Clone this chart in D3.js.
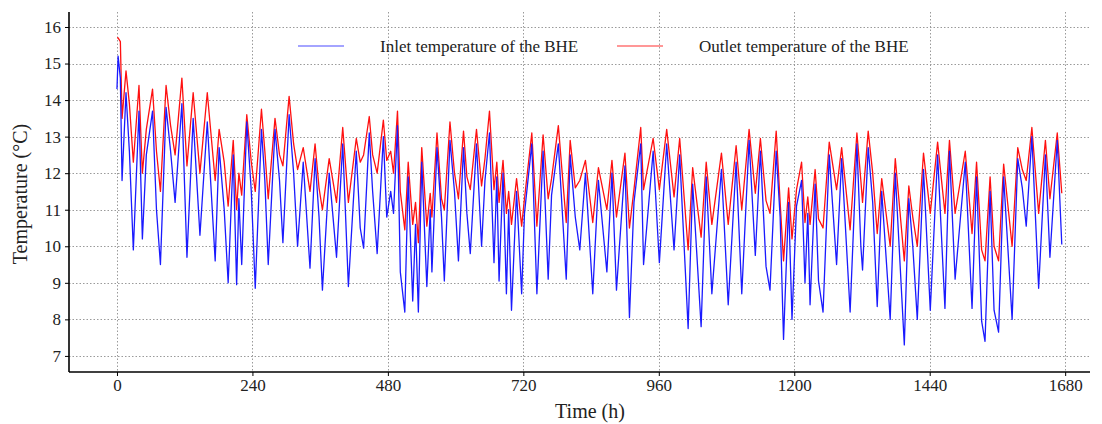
<!DOCTYPE html>
<html>
<head>
<meta charset="utf-8">
<script src="https://cdn.jsdelivr.net/npm/d3@7"></script>
<style>
body { margin: 0; background: #fff; }
text { font-family: "Liberation Serif", "Times New Roman", serif; }
</style>
</head>
<body>
<svg width="1102" height="424"></svg>
<script>
// hours of the turning points
var hours = [0,2,6,9,16,22,29,39,45,52,63,70,77,87,95,103,115,124,135,147,160,174,181,190,197,206,212,216,221,
  230,238,245,256,262,268,280,288,294,305,313,320,330,342,351,358,364,376,389,400,410,424,431,437,447,453,461,
  472,478,485,490,497,502,510,516,524,529,534,540,549,555,558,567,575,580,590,598,605,614,620,626,637,646,652,
  660,668,673,677,684,690,694,699,708,717,722,735,744,755,764,770,782,796,803,812,820,830,843,853,868,877,885,
  900,908,916,922,928,933,950,961,974,987,997,1012,1020,1035,1044,1054,1071,1083,1097,1107,1120,1131,1140,1150,
  1157,1168,1175,1181,1190,1196,1204,1213,1219,1224,1228,1237,1243,1251,1262,1275,1284,1299,1311,1318,1321,1331,
  1339,1347,1355,1370,1379,1395,1403,1410,1418,1429,1441,1454,1467,1475,1485,1503,1515,1523,1532,1538,1547,1554,
  1562,1571,1586,1596,1604,1611,1621,1633,1645,1653,1666,1674];

var inlet = [14.3,15.2,14.6,11.8,14.2,12.6,9.9,13.7,10.2,12.5,13.7,11.0,9.5,13.8,12.6,11.2,13.9,9.7,13.5,10.3,13.4,9.6,12.7,11.0,9.0,12.5,8.95,11.3,9.5,
  13.4,11.5,8.85,13.2,11.8,9.5,13.2,11.8,10.1,13.6,12.0,10.0,12.3,9.4,12.4,10.8,8.8,12.0,9.7,12.8,8.9,12.6,10.5,9.95,13.1,11.5,9.8,
  13.0,10.8,11.5,10.9,13.3,9.3,8.2,11.9,8.5,10.6,8.2,12.3,8.9,11.0,9.3,12.7,10.8,9.05,12.9,11.5,9.6,12.7,10.9,9.8,12.8,10.0,11.8,
  13.1,9.55,11.9,9.05,12.0,8.7,11.0,8.25,11.5,8.7,10.9,12.8,8.7,12.6,9.1,11.4,12.8,9.1,12.5,10.8,9.9,12.0,8.7,11.8,9.3,12.0,8.8,
  12.2,8.05,11.2,12.0,12.8,9.5,12.6,9.55,12.8,9.9,12.5,7.75,11.7,7.8,11.9,8.7,12.1,8.4,12.3,8.7,12.9,9.75,12.6,9.45,
  8.8,12.6,10.8,7.45,11.2,8.0,11.1,11.8,9.0,10.9,8.4,11.7,9.05,8.2,12.5,9.5,12.4,8.2,12.8,10.0,9.35,12.7,
  11.2,8.35,11.5,8.0,12.0,7.3,11.3,10.0,8.0,12.1,8.25,12.5,8.3,12.6,9.1,12.3,8.3,11.9,7.95,7.4,11.5,8.25,
  7.65,11.9,8.0,12.4,11.6,10.55,13.0,8.85,12.5,9.7,12.9,10.05];

var outlet = [15.7,15.7,15.6,13.5,14.8,13.9,12.3,14.4,12.0,13.2,14.3,12.6,11.5,14.4,13.3,12.5,14.6,12.2,14.2,12.0,14.2,11.8,13.2,12.3,11.1,12.9,11.0,12.0,11.4,
  13.6,12.3,11.5,13.75,12.6,11.3,13.5,12.5,12.2,14.1,12.8,12.1,12.7,11.5,12.8,11.6,11.0,12.4,11.2,13.25,11.2,12.95,12.3,12.5,13.55,12.5,12.0,
  13.45,12.35,12.6,12.0,13.7,11.5,10.45,12.3,10.6,11.2,10.1,12.7,10.55,11.45,10.8,13.1,11.3,11.0,13.4,12.0,11.3,13.15,11.9,11.55,13.2,11.65,12.4,
  13.7,11.55,12.3,11.2,12.35,10.9,11.5,10.6,11.85,10.55,11.3,13.1,10.55,13.05,11.3,11.85,13.3,10.65,12.9,11.6,11.8,12.35,10.65,12.15,11.0,12.35,10.8,
  12.55,10.5,11.55,12.4,13.25,11.55,12.95,11.55,13.2,11.35,12.95,9.9,12.15,10.25,12.3,10.6,12.55,10.6,12.75,11.0,13.2,11.45,12.95,11.25,
  10.9,13.15,11.2,9.6,11.6,10.2,11.55,12.3,10.65,11.35,10.6,12.1,10.75,10.5,12.85,11.55,12.7,10.45,13.1,11.8,11.2,13.15,
  12.0,10.35,11.85,10.0,12.4,9.6,11.65,10.8,10.0,12.55,10.9,12.85,10.9,12.9,10.9,12.6,10.35,12.3,9.9,9.6,11.9,10.0,
  9.6,12.25,10.0,12.7,12.1,11.8,13.25,10.9,12.9,11.3,13.1,11.45];

var xTicks = [0, 240, 480, 720, 960, 1200, 1440, 1680];
var yTicks = [7, 8, 9, 10, 11, 12, 13, 14, 15, 16];

if (hours.length !== inlet.length || hours.length !== outlet.length) {
  throw new Error("length mismatch " + hours.length + " " + inlet.length + " " + outlet.length);
}

var svg = d3.select("svg");
var pLeft = 69, pRight = 1090, pTop = 12, pBottom = 372;

var x = d3.scaleLinear().domain([-85, 1724]).range([pLeft, pRight]);
var y = d3.scaleLinear().domain([6.56, 16.41]).range([pBottom, pTop]);

// dotted grid
var grid = svg.append("g").attr("stroke", "#9a9a9a").attr("stroke-width", 1).attr("stroke-dasharray", "1.5,2");
grid.selectAll(".gx").data(xTicks).enter().append("line")
  .attr("x1", function(d) { return Math.round(x(d)) + 0.5; })
  .attr("x2", function(d) { return Math.round(x(d)) + 0.5; })
  .attr("y1", pTop).attr("y2", pBottom);
grid.selectAll(".gy").data(yTicks).enter().append("line")
  .attr("y1", function(d) { return Math.round(y(d)) + 0.5; })
  .attr("y2", function(d) { return Math.round(y(d)) + 0.5; })
  .attr("x1", pLeft).attr("x2", pRight);

var line = d3.line().x(function(d, i) { return x(hours[i]); }).y(function(d) { return y(d); });

svg.append("path").datum(outlet)
  .attr("fill", "none").attr("stroke", "#ff1010").attr("stroke-width", 1.3)
  .attr("stroke-linejoin", "round")
  .attr("d", line);
svg.append("path").datum(inlet)
  .attr("fill", "none").attr("stroke", "#1a1aff").attr("stroke-width", 1.3)
  .attr("stroke-linejoin", "round")
  .attr("d", line);

// axes
var xAxis = svg.append("g").attr("transform", "translate(0," + pBottom + ")")
  .call(d3.axisBottom(x).tickValues(xTicks).tickFormat(d3.format("d")).tickSize(4).tickPadding(3));
var yAxis = svg.append("g").attr("transform", "translate(" + pLeft + ",0)")
  .call(d3.axisLeft(y).tickValues(yTicks).tickFormat(d3.format("d")).tickSize(4).tickPadding(4));

[xAxis, yAxis].forEach(function(a) {
  a.select(".domain").attr("stroke", "#000").attr("stroke-width", 1.6);
  a.selectAll(".tick line").attr("stroke", "#000");
  a.selectAll(".tick text").attr("font-family", "Liberation Serif").attr("font-size", 17).attr("fill", "#222");
});
xAxis.select(".domain").attr("d", "M" + pLeft + ",0H" + pRight);
yAxis.select(".domain").attr("d", "M0," + pTop + "V" + pBottom);

svg.append("text").attr("x", 590).attr("y", 418)
  .attr("text-anchor", "middle").attr("font-size", 20).attr("fill", "#222")
  .text("Time (h)");
svg.append("text").attr("transform", "translate(27,194) rotate(-90)")
  .attr("text-anchor", "middle").attr("font-size", 20).attr("fill", "#222")
  .text("Temperature (°C)");

// legend
var legend = [
  {label: "Inlet temperature of the BHE", color: "#4a4aff", x: 298},
  {label: "Outlet temperature of the BHE", color: "#ff3030", x: 617}
];
var lg = svg.selectAll(".lg").data(legend).enter().append("g")
  .attr("transform", function(d) { return "translate(" + d.x + ",46)"; });
lg.append("line").attr("x1", 0).attr("x2", 46).attr("stroke", function(d) { return d.color; }).attr("stroke-width", 1.2);
lg.append("text").attr("x", 82).attr("y", 6).attr("font-size", 17).attr("fill", "#222")
  .text(function(d) { return d.label; });
</script>
</body>
</html>
